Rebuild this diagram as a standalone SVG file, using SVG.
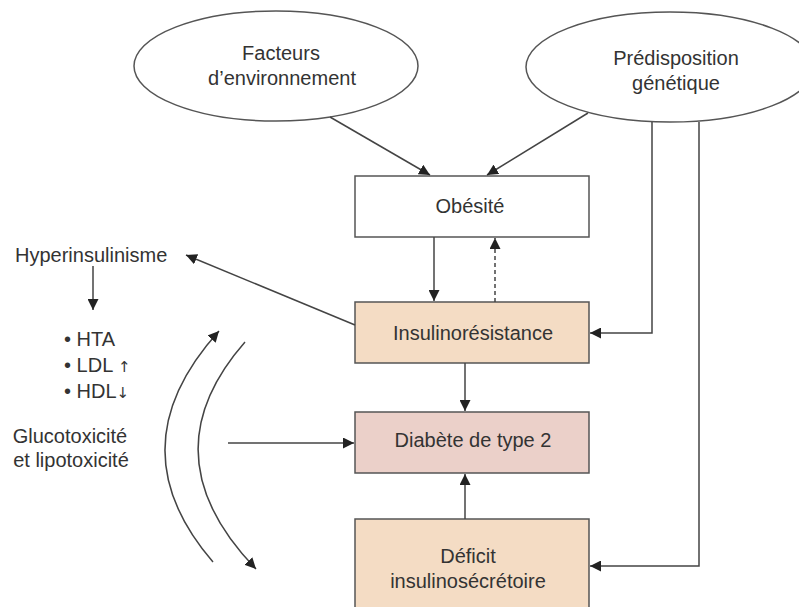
<svg xmlns="http://www.w3.org/2000/svg" width="799" height="607" viewBox="0 0 799 607">
<style>
text{font-family:"Liberation Sans",Arial,sans-serif;font-size:20px;fill:#333;}
.c{text-anchor:middle;}
.ar{font-family:"DejaVu Sans",sans-serif;font-size:15px;fill:#333;}
.node{stroke:#555;stroke-width:1.5;}
.ln{fill:none;stroke:#444;stroke-width:1.5;}
</style>
<defs>
<marker id="ah" viewBox="0 0 10 10" refX="10" refY="5" markerWidth="11" markerHeight="11" markerUnits="userSpaceOnUse" orient="auto">
<path d="M0,0 L10,5 L0,10 z" fill="#222"/>
</marker>
</defs>
<rect width="799" height="607" fill="#fff"/>
<g id="facteurs">
<ellipse class="node" cx="276" cy="66" rx="142" ry="55" fill="#fff"/>
<text class="c" x="281" y="60">Facteurs</text>
<text class="c" x="282" y="85">d’environnement</text>
</g>
<g id="predisposition">
<ellipse class="node" cx="670" cy="67" rx="144" ry="55" fill="#fff"/>
<text class="c" x="676" y="65">Prédisposition</text>
<text class="c" x="676" y="90">génétique</text>
</g>
<g id="obesite">
<rect class="node" x="355" y="176" width="234" height="61" fill="#fff"/>
<text class="c" x="470" y="213">Obésité</text>
</g>
<g id="insulinoresistance">
<rect class="node" x="355" y="302" width="234" height="61" fill="#f4dcc4"/>
<text class="c" x="473" y="340">Insulinorésistance</text>
</g>
<g id="diabete">
<rect class="node" x="355" y="412" width="234" height="61" fill="#ebd0c9"/>
<text class="c" x="473" y="447">Diabète de type 2</text>
</g>
<g id="deficit">
<rect class="node" x="355" y="519" width="234" height="100" fill="#f4dcc4"/>
<text class="c" x="468" y="563">Déficit</text>
<text class="c" x="468" y="588">insulinosécrétoire</text>
</g>
<g id="hyperinsulinisme">
<text x="15" y="262">Hyperinsulinisme</text>
</g>
<g id="consequences">
<text x="64" y="346">• HTA</text>
<text x="64" y="372">• LDL <tspan class="ar">↑</tspan></text>
<text x="64" y="398">• HDL<tspan class="ar">↓</tspan></text>
</g>
<g id="toxicite">
<text class="c" x="70" y="443">Glucotoxicité</text>
<text class="c" x="71" y="467">et lipotoxicité</text>
</g>
<g id="connectors">
<line class="ln" x1="330" y1="117" x2="430" y2="175" marker-end="url(#ah)"/>
<line class="ln" x1="588" y1="113" x2="487" y2="175" marker-end="url(#ah)"/>
<polyline class="ln" points="652,122 652,333 590,333" marker-end="url(#ah)"/>
<polyline class="ln" points="699,122 699,566 590,566" marker-end="url(#ah)"/>
<line class="ln" x1="434" y1="237" x2="434" y2="301" marker-end="url(#ah)"/>
<line class="ln" x1="495" y1="302" x2="495" y2="238" stroke-dasharray="4,3" marker-end="url(#ah)"/>
<line class="ln" x1="465" y1="363" x2="465" y2="411" marker-end="url(#ah)"/>
<line class="ln" x1="465" y1="519" x2="465" y2="474" marker-end="url(#ah)"/>
<line class="ln" x1="355" y1="325" x2="186" y2="255" marker-end="url(#ah)"/>
<line class="ln" x1="93" y1="266" x2="93" y2="310" marker-end="url(#ah)"/>
<line class="ln" x1="228" y1="443" x2="354" y2="443" marker-end="url(#ah)"/>
<path class="ln" d="M213,562 Q114,447 219,331" marker-end="url(#ah)"/>
<path class="ln" d="M245,342 Q146,455 256,569" marker-end="url(#ah)"/>
</g>
</svg>
